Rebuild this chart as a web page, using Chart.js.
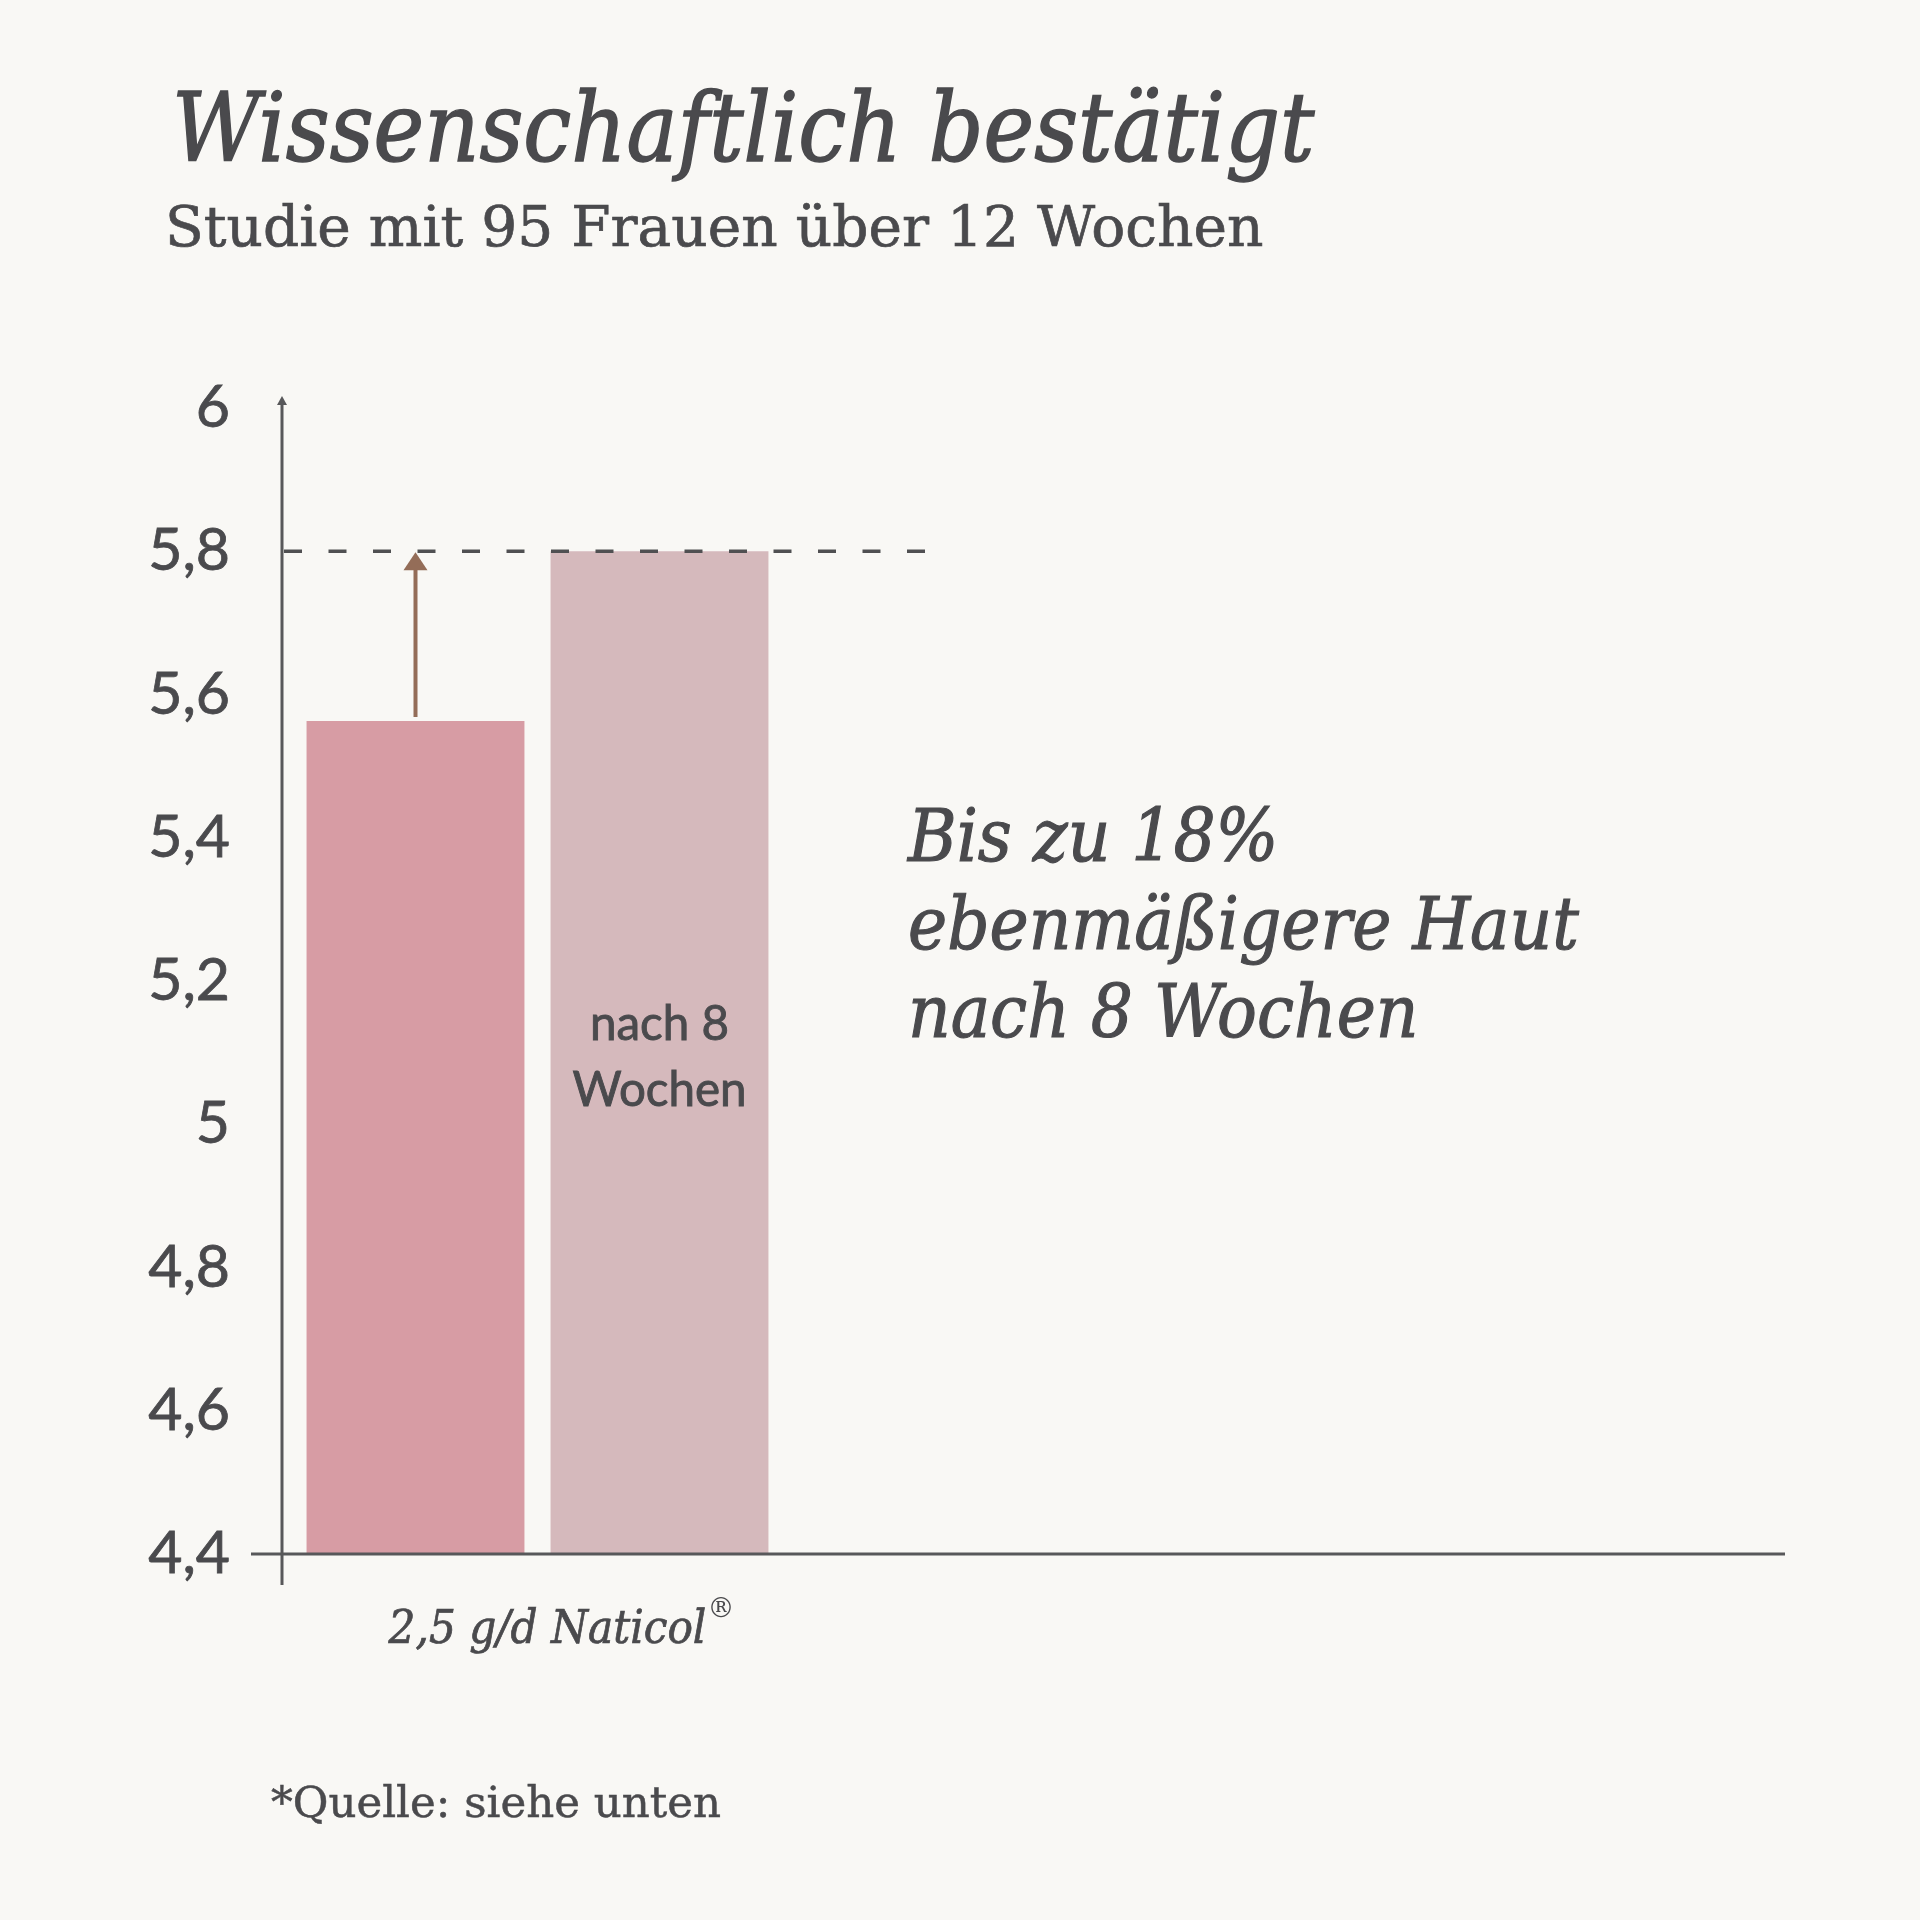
<!DOCTYPE html>
<html lang="de">
<head>
<meta charset="utf-8">
<title>Wissenschaftlich bestätigt</title>
<script src="https://cdn.jsdelivr.net/npm/chart.js@4.4.1/dist/chart.umd.min.js"></script>
<style>
  body { margin: 0; background: #f9f8f5; }
  #wrap { position: relative; width: 1920px; height: 1920px; }
  #chart { position: absolute; left: 0; top: 0; }
  .txt { position: absolute; margin: 0; color: #4a4a4d; white-space: nowrap; font-weight: normal; }
  .cond { font-family: "DejaVu Serif Condensed", "DejaVu Serif", serif; font-stretch: condensed; font-style: italic; }
  #title { left: 172px; top: 81px; font-size: 95.2px; line-height: 1; -webkit-text-stroke: 1.4px #4a4a4d; }
  #subtitle { left: 165px; top: 198px; font: 56.6px/1 "DejaVu Serif", serif; -webkit-text-stroke: 0.7px #4a4a4d; }
  #note { left: 908px; top: 792px; font-size: 73.6px; line-height: 88px; -webkit-text-stroke: 1.1px #4a4a4d; }
  #source { left: 271px; top: 1781px; font: 43.5px/1 "DejaVu Serif", serif; -webkit-text-stroke: 0.5px #4a4a4d; }
</style>
</head>
<body>
<div id="wrap">
  <canvas id="chart" width="1920" height="1920"></canvas>
  <h1 class="txt cond" id="title">Wissenschaftlich bestätigt</h1>
  <div class="txt" id="subtitle">Studie mit 95 Frauen über 12 Wochen</div>
  <div class="txt cond" id="note">Bis zu 18%<br>ebenmäßigere Haut<br>nach 8 Wochen</div>
  <div class="txt" id="source">*Quelle: siehe unten</div>
</div>
<script>
const categories = ['2,5 g/d Naticol®', '', ''];
const startValues = [5.563, null, null];
const after8Weeks = [5.8, null, null];
const barLabelLines = ['nach 8', 'Wochen'];
const yTicks = [4.4, 4.6, 4.8, 5, 5.2, 5.4, 5.6, 5.8, 6];
const yTickLabels = ['4,4', '4,6', '4,8', '5', '5,2', '5,4', '5,6', '5,8', '6'];

const textColor = '#4a4a4d';
const axisColor = '#58585a';
const serifCond = '"DejaVu Serif Condensed", "DejaVu Serif", serif';
const labelSize = 47;
const labelPad = 41;
const axisOverhang = 30; // x scale runs a bit past the drawn axis line

// axis lines, dashed target line, arrow and the label inside the second bar
const decorations = {
    id: 'decorations',
    afterDatasetsDraw(chart) {
        const {ctx, chartArea, scales: {x, y}} = chart;
        const before = chart.getDatasetMeta(0).data[0];
        const after = chart.getDatasetMeta(1).data[0];
        const targetY = y.getPixelForValue(after8Weeks[0]);
        const beforeY = y.getPixelForValue(startValues[0]);
        const baseY = y.getPixelForValue(yTicks[0]);

        ctx.save();

        ctx.strokeStyle = '#505052';
        ctx.lineWidth = 3.5;
        ctx.setLineDash([18, 26.5]);
        ctx.beginPath();
        ctx.moveTo(chartArea.left + 2, targetY);
        ctx.lineTo(after.x + after.width / 2 + 157, targetY);
        ctx.stroke();
        ctx.setLineDash([]);

        ctx.strokeStyle = '#946d58';
        ctx.fillStyle = '#946d58';
        ctx.lineWidth = 4;
        ctx.beginPath();
        ctx.moveTo(before.x, beforeY - 4);
        ctx.lineTo(before.x, targetY + 14);
        ctx.stroke();
        ctx.beginPath();
        ctx.moveTo(before.x, targetY + 1);
        ctx.lineTo(before.x - 12, targetY + 19);
        ctx.lineTo(before.x + 12, targetY + 19);
        ctx.closePath();
        ctx.fill();

        // text in the middle of the second bar
        ctx.fillStyle = textColor;
        ctx.strokeStyle = textColor;
        ctx.lineWidth = 0.9;
        ctx.font = '47.5px Lato, sans-serif';
        ctx.textAlign = 'center';
        ctx.textBaseline = 'alphabetic';
        let midY = (targetY + baseY) / 2;
        barLabelLines.forEach((line, i) => {
            let ty = midY + (i - 0.5) * 66 + 20;
            ctx.fillText(line, after.x, ty);
            ctx.strokeText(line, after.x, ty);
        });

        // axes
        ctx.strokeStyle = axisColor;
        ctx.fillStyle = axisColor;
        ctx.lineWidth = 3;
        ctx.beginPath();
        ctx.moveTo(chartArea.left, chartArea.bottom + 31);
        ctx.lineTo(chartArea.left, chartArea.top - 6);
        ctx.moveTo(chartArea.left - 31, chartArea.bottom);
        ctx.lineTo(chartArea.right - axisOverhang, chartArea.bottom);
        ctx.stroke();
        ctx.beginPath();
        ctx.moveTo(chartArea.left, chartArea.top - 12);
        ctx.lineTo(chartArea.left - 5, chartArea.top - 3);
        ctx.lineTo(chartArea.left + 5, chartArea.top - 3);
        ctx.closePath();
        ctx.fill();

        // superscript ® after the category label
        let label = categories[0].replace('®', '');
        ctx.font = 'italic ' + labelSize + 'px ' + serifCond;
        let w = ctx.measureText(label).width;
        let cx = x.getPixelForTick(0) + 10;
        ctx.font = '27px "DejaVu Serif", serif';
        ctx.textAlign = 'left';
        ctx.textBaseline = 'middle';
        ctx.fillStyle = textColor;
        ctx.fillText('®', cx + w / 2 + 1, chartArea.bottom + labelPad + labelSize * 0.6 - 13);

        ctx.restore();
    }
};

new Chart(document.getElementById('chart').getContext('2d'), {
    type: 'bar',
    data: {
        labels: categories,
        datasets: [
            {
                label: 'Start',
                data: startValues,
                backgroundColor: '#d79ca4',
                categoryPercentage: 0.955,
                barPercentage: 0.893
            },
            {
                label: 'nach 8 Wochen',
                data: after8Weeks,
                backgroundColor: '#d5b9bc',
                categoryPercentage: 0.955,
                barPercentage: 0.893
            }
        ]
    },
    options: {
        responsive: false,
        animation: false,
        layout: {
            padding: {top: 408, right: 105, bottom: 246, left: 0}
        },
        plugins: {
            legend: {display: false},
            tooltip: {enabled: false}
        },
        scales: {
            x: {
                afterFit: s => { s.height = 120; },
                grid: {display: false},
                border: {display: false},
                ticks: {
                    padding: labelPad,
                    labelOffset: 10,
                    maxRotation: 0,
                    autoSkip: false,
                    color: textColor,
                    textStrokeColor: textColor,
                    textStrokeWidth: 0.7,
                    font: {family: serifCond, style: 'italic', size: labelSize},
                    callback: (v, i) => categories[i].replace('®', '')
                }
            },
            y: {
                min: yTicks[0],
                max: yTicks[yTicks.length - 1],
                afterBuildTicks: s => { s.ticks = yTicks.map(v => ({value: v})); },
                afterFit: s => { s.width = 282; },
                grid: {display: false},
                border: {display: false},
                ticks: {
                    padding: 44,
                    color: textColor,
                    textStrokeColor: textColor,
                    textStrokeWidth: 0.8,
                    font: {family: 'Lato', size: 59},
                    callback: (v, i) => yTickLabels[i]
                }
            }
        }
    },
    plugins: [decorations]
});
</script>
</body>
</html>
